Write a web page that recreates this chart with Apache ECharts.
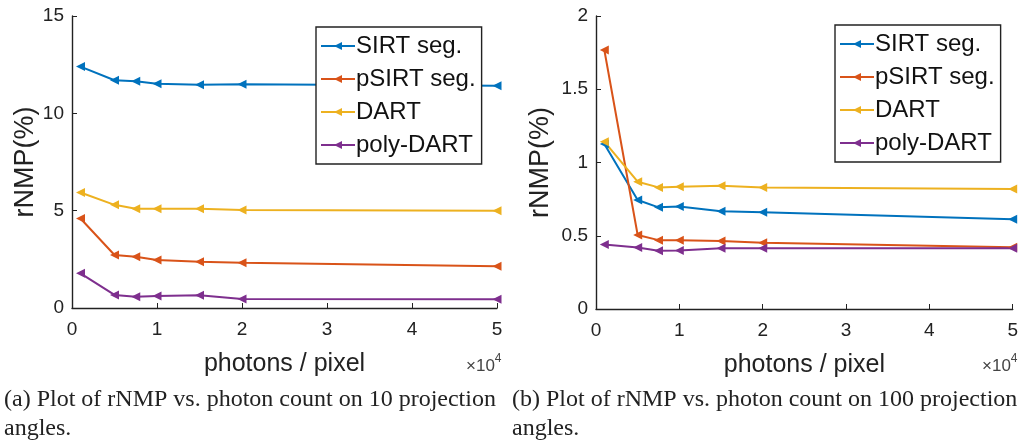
<!DOCTYPE html>
<html>
<head>
<meta charset="utf-8">
<script src="https://cdn.jsdelivr.net/npm/echarts@6/dist/echarts.min.js"></script>
<style>
    html, body { margin: 0; padding: 0; background: #fff; }
    #chart { width: 1021px; height: 447px; }
</style>
</head>
<body>
<div id="chart"></div>
<script>
// photons / pixel, in units of 10^4
const photons = [0.1, 0.5, 0.75, 1, 1.5, 2, 5];

// (a) 10 projection angles
const sirtA = [12.4, 11.7, 11.65, 11.52, 11.47, 11.5, 11.42];
const psirtA = [4.6, 2.72, 2.63, 2.46, 2.37, 2.32, 2.15];
const dartA = [5.93, 5.3, 5.1, 5.1, 5.1, 5.03, 5.0];
const polyA = [1.78, 0.67, 0.58, 0.62, 0.65, 0.46, 0.45];

// (b) 100 projection angles
const sirtB = [1.126, 0.744, 0.694, 0.70, 0.667, 0.66, 0.612];
const psirtB = [1.768, 0.505, 0.47, 0.47, 0.465, 0.453, 0.421];
const dartB = [1.142, 0.869, 0.83, 0.835, 0.842, 0.83, 0.819];
const polyB = [0.44, 0.42, 0.398, 0.40, 0.414, 0.414, 0.414];

const names = ['SIRT seg.', 'pSIRT seg.', 'DART', 'poly-DART'];
const colors = ['#0072BD', '#D95319', '#EDB120', '#7E2F8E'];

const xTicks = ['0', '1', '2', '3', '4', '5'];
const yTicksA = [0, 5, 10, 15];
const yTicksB = [0, 0.5, 1, 1.5, 2];

const captionA = ['(a) Plot of rNMP vs. photon count on 10 projection', 'angles.'];
const captionB = ['(b) Plot of rNMP vs. photon count on 100 projection', 'angles.'];

const font = 'Liberation Sans, Arial, sans-serif';

const pair = (ys) => photons.map((x, i) => [x, ys[i]]);

function xAxisOf(gridIndex) {
    return {
        gridIndex,
        type: 'value',
        min: 0,
        max: 5,
        interval: 1,
        name: 'photons / pixel',
        nameLocation: 'middle',
        nameGap: 44,
        nameTextStyle: { color: '#222', fontSize: 25, fontFamily: font },
        axisLine: { show: true, lineStyle: { color: '#222', width: 1.4 } },
        axisTick: { show: true, inside: true, length: 5, lineStyle: { color: '#222' } },
        axisLabel: {
            color: '#222', fontSize: 19, fontFamily: font, margin: 12,
            formatter: v => xTicks[Math.round(v)] ?? ''
        },
        splitLine: { show: false }
    };
}

function yAxisOf(gridIndex, max, interval, ticks) {
    return {
        gridIndex,
        type: 'value',
        min: 0,
        max,
        interval,
        name: 'rNMP(%)',
        nameLocation: 'middle',
        nameGap: gridIndex === 0 ? 30 : 42,
        nameTextStyle: { color: '#222', fontSize: 27, fontFamily: font },
        axisLine: { show: true, lineStyle: { color: '#222', width: 1.4 } },
        axisTick: { show: true, inside: true, length: 5, lineStyle: { color: '#222' } },
        axisLabel: {
            color: '#222', fontSize: 19, fontFamily: font, margin: 8,
            formatter: v => {
                const t = ticks.find(k => Math.abs(k - v) < 1e-6);
                return t === undefined ? '' : String(t);
            }
        },
        splitLine: { show: false }
    };
}

function lineSeries(name, color, ys, idx) {
    return {
        name,
        type: 'line',
        xAxisIndex: idx,
        yAxisIndex: idx,
        data: pair(ys),
        symbol: 'triangle',
        symbolRotate: 90,
        symbolSize: 9,
        showAllSymbol: true,
        lineStyle: { color, width: 2 },
        itemStyle: { color },
        animation: false
    };
}

function legendOf(left, top) {
    return {
        left, top,
        orient: 'vertical',
        data: names,
        backgroundColor: '#fff',
        borderColor: '#222',
        borderWidth: 1.4,
        borderRadius: 0,
        padding: [7, 6, 7, 4],
        itemGap: 9,
        itemWidth: 34,
        itemHeight: 10,
        textStyle: { color: '#111', fontSize: 24, fontFamily: font, padding: [0, 0, 0, -4] },
        selectedMode: false
    };
}

function captionText(lines, left, top) {
    return lines.map((t, i) => ({
        type: 'text',
        left, top: top + i * 29,
        style: { text: t, font: '24px "Liberation Serif", "Times New Roman", serif', fill: '#222' }
    }));
}

function timesTen(left, top) {
    return {
        type: 'text',
        left, top,
        style: {
            text: '{a|×10}{b|4}',
            rich: {
                a: { font: '17px ' + font, fill: '#444', verticalAlign: 'bottom' },
                b: { font: '12px ' + font, fill: '#444', padding: [0, 0, 10, 0] }
            }
        }
    };
}

const chart = echarts.init(document.getElementById('chart'), null, { renderer: 'canvas' });

const series = [];
[sirtA, psirtA, dartA, polyA].forEach((ys, i) => series.push(lineSeries(names[i], colors[i], ys, 0)));
[sirtB, psirtB, dartB, polyB].forEach((ys, i) => series.push(lineSeries(names[i], colors[i], ys, 1)));

chart.setOption({
    backgroundColor: '#fff',
    animation: false,
    color: colors,
    grid: [
        { left: 72, right: 524, top: 16, bottom: 139, containLabel: false },
        { left: 596, right: 6, top: 16, bottom: 138, containLabel: false }
    ],
    xAxis: [xAxisOf(0), xAxisOf(1)],
    yAxis: [yAxisOf(0, 15, 5, yTicksA), yAxisOf(1, 2, 0.5, yTicksB)],
    legend: [legendOf(316, 27), legendOf(835, 25)],
    series,
    graphic: [
        timesTen(466, 353),
        timesTen(982, 353),
        ...captionText(captionA, 4, 388),
        ...captionText(captionB, 512, 388)
    ]
});
</script>
</body>
</html>
